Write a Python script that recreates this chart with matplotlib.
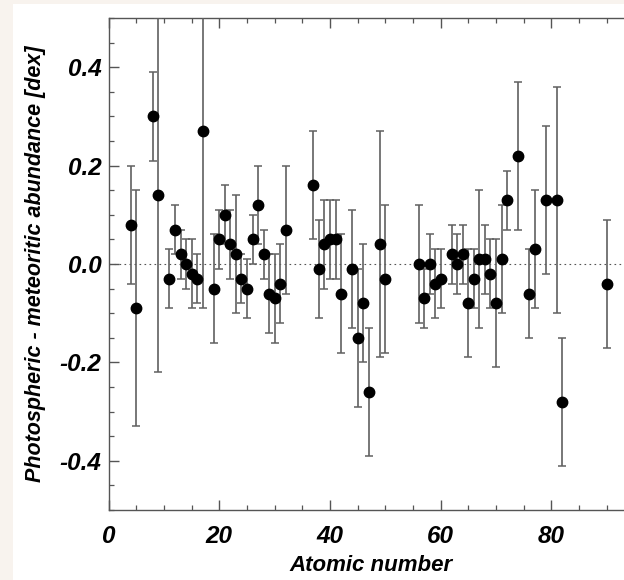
import matplotlib
matplotlib.use("Agg")
import matplotlib.pyplot as plt
from matplotlib.patches import Rectangle
from matplotlib.ticker import MultipleLocator, FuncFormatter

# Atomic number, photospheric - meteoritic difference [dex] and its error
atomic_number = [4, 5, 8, 9, 11, 12, 13, 14, 15, 16, 17, 19, 20, 21, 22, 23, 24,
                 25, 26, 27, 28, 29, 30, 31, 32, 37, 38, 39, 40, 41, 42, 44, 45,
                 46, 47, 49, 50, 56, 57, 58, 59, 60, 62, 63, 64, 65, 66, 67, 68,
                 69, 70, 71, 72, 74, 76, 77, 79, 81, 82, 90]
abund_diff = [0.08, -0.09, 0.30, 0.14, -0.03, 0.07, 0.02, 0.00, -0.02, -0.03,
              0.27, -0.05, 0.05, 0.10, 0.04, 0.02, -0.03, -0.05, 0.05, 0.12,
              0.02, -0.06, -0.07, -0.04, 0.07, 0.16, -0.01, 0.04, 0.05, 0.05,
              -0.06, -0.01, -0.15, -0.08, -0.26, 0.04, -0.03, 0.00, -0.07, 0.00,
              -0.04, -0.03, 0.02, 0.00, 0.02, -0.08, -0.03, 0.01, 0.01, -0.02,
              -0.08, 0.01, 0.13, 0.22, -0.06, 0.03, 0.13, 0.13, -0.28, -0.04]
abund_err = [0.12, 0.24, 0.09, 0.36, 0.06, 0.05, 0.05, 0.05, 0.07, 0.05,
             0.36, 0.11, 0.06, 0.06, 0.07, 0.12, 0.05, 0.06, 0.05, 0.08,
             0.05, 0.08, 0.09, 0.08, 0.13, 0.11, 0.10, 0.09, 0.08, 0.08,
             0.12, 0.12, 0.14, 0.12, 0.13, 0.23, 0.15, 0.12, 0.06, 0.06,
             0.07, 0.06, 0.06, 0.06, 0.06, 0.11, 0.06, 0.14, 0.07, 0.07,
             0.13, 0.11, 0.06, 0.15, 0.09, 0.12, 0.15, 0.23, 0.13, 0.13]

plt.rcParams['font.family'] = ['Liberation Sans', 'DejaVu Sans']

fig = plt.figure(figsize=(6.24, 5.80), dpi=100, facecolor='#f8f3ee')
# white page behind the plot
page = Rectangle((13 / 624, 0), 1, 1 - 4 / 580, transform=fig.transFigure,
                 facecolor='white', edgecolor='none', zorder=-10)
fig.patches.append(page)

# axes run past the right edge of the picture (right side is cropped)
ax = fig.add_axes([108.6 / 624, 70 / 580, 525.8 / 624, 492 / 580])
ax.set_facecolor('white')

ax.axhline(0, color='#555555', linestyle=(0, (1.5, 3)), linewidth=0.8, zorder=1)
ax.errorbar(atomic_number, abund_diff, yerr=abund_err, fmt='o', color='black',
            markersize=7.5, ecolor='#606060', elinewidth=1.2, capsize=2.6,
            capthick=1.1, zorder=3)

ax.set_xlim(0, 95)
ax.set_ylim(-0.5, 0.5)
ax.xaxis.set_major_locator(MultipleLocator(20))
ax.xaxis.set_minor_locator(MultipleLocator(5))
ax.yaxis.set_major_locator(MultipleLocator(0.2))
ax.yaxis.set_minor_locator(MultipleLocator(0.05))
ax.yaxis.set_major_formatter(FuncFormatter(lambda v, p: f"{v:.1f}".replace("\u2212", "-")))

ax.tick_params(which='both', direction='in', top=True, right=True, color='#555555')
ax.tick_params(which='major', length=7.5, width=1.0)
ax.tick_params(which='minor', length=3.8, width=0.9)
ax.tick_params(axis='x', pad=11)
ax.tick_params(axis='y', pad=5)
for lab in ax.get_xticklabels() + ax.get_yticklabels():
    lab.set_fontsize(17.5)
    lab.set_fontweight('bold')
    lab.set_fontstyle('italic')
for s in ax.spines.values():
    s.set_color('#555555')
    s.set_linewidth(1.0)

ax.set_xlabel('Atomic number', fontsize=16, fontweight='bold', fontstyle='italic', labelpad=5)
ax.set_ylabel('Photospheric - meteoritic abundance [dex]', fontsize=15.5,
              fontweight='bold', fontstyle='italic', labelpad=10)

fig.savefig('out.png', dpi=100, facecolor=fig.get_facecolor())
